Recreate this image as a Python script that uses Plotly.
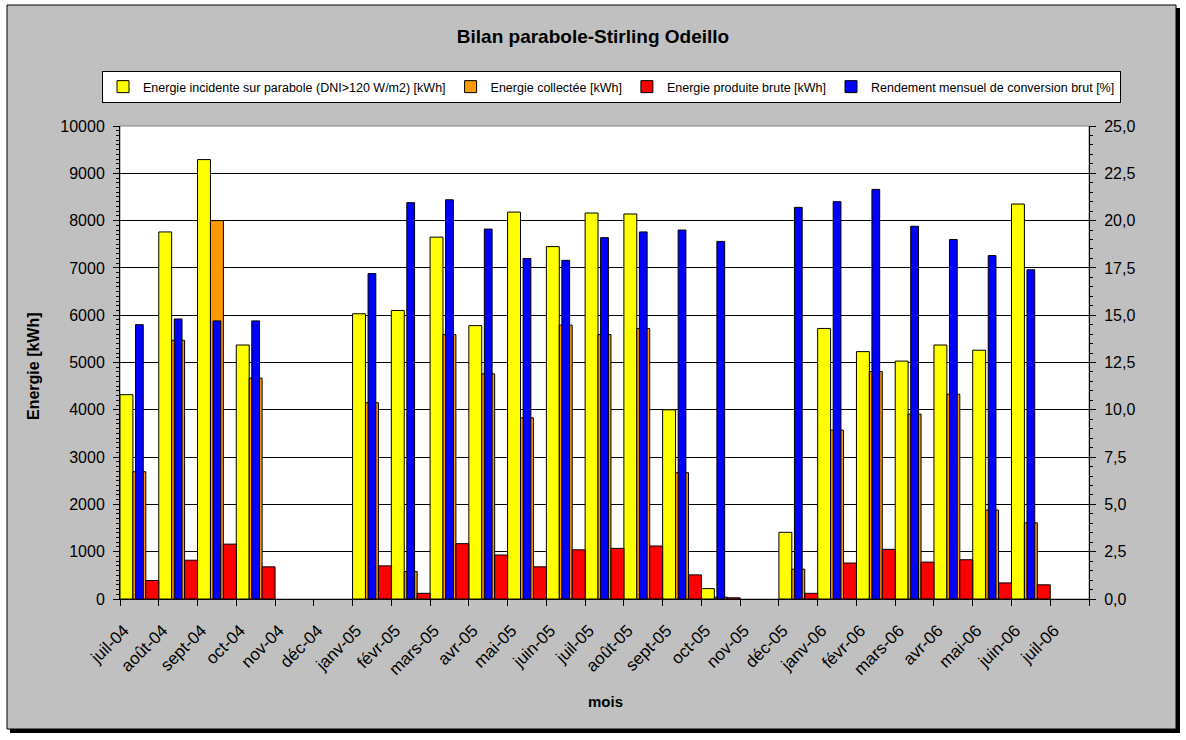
import plotly.graph_objects as go

# ---------------- data ----------------
months = ["juil-04", "août-04", "sept-04", "oct-04", "nov-04", "déc-04",
          "janv-05", "févr-05", "mars-05", "avr-05", "mai-05", "juin-05",
          "juil-05", "août-05", "sept-05", "oct-05", "nov-05", "déc-05",
          "janv-06", "févr-06", "mars-06", "avr-06", "mai-06", "juin-06"]
tick_labels = months + ["juil-06"]

energie_incidente = [4320, 7760, 9290, 5370, None, None,
                     6030, 6100, 7650, 5780, 8180, 7450,
                     8160, 8140, 4000, 220, None, 1410,
                     5720, 5230, 5030, 5370, 5260, 8350]
energie_collectee = [2690, 5470, 8000, 4670, None, None,
                     4150, 580, 5590, 4760, 3830, 5790,
                     5590, 5720, 2670, 40, None, 630,
                     3570, 4810, 3910, 4330, 1880, 1610]
energie_produite = [390, 820, 1160, 680, None, None,
                    700, 120, 1170, 930, 680, 1040,
                    1070, 1120, 510, 25, None, 120,
                    760, 1050, 780, 830, 340, 300]
rendement = [14.5, 14.8, 14.7, 14.7, None, None,
             17.2, 20.95, 21.1, 19.55, 18.0, 17.9,
             19.1, 19.4, 19.5, 18.9, None, 20.7,
             21.0, 21.65, 19.7, 19.0, 18.15, 17.4]

y2_ticks = [0, 2.5, 5, 7.5, 10, 12.5, 15, 17.5, 20, 22.5, 25]
y2_ticktext = [f"{v:.1f}".replace(".", ",") for v in y2_ticks]

names = ["Energie incidente sur parabole (DNI>120 W/m2) [kWh]",
         "Energie collectée [kWh]",
         "Energie produite brute [kWh]",
         "Rendement mensuel de conversion brut [%]"]

# ---------------- layout geometry (pixels) ----------------
W, H = 1186, 740
PL, PR, PT, PB = 120, 1089, 126, 599   # plot area
pw, ph = PR - PL, PB - PT

def px_x(px):
    return (px - PL) / pw

def px_y(py):
    return (PB - py) / ph

FONT = "Arial, Liberation Sans, sans-serif"
xs = list(range(len(months)))
line = dict(color="black", width=1)

fig = go.Figure()
fig.add_trace(go.Bar(x=xs, y=energie_incidente, name=names[0], width=1/3, offset=0,
                     marker=dict(color="#FFFF00", line=line)))
fig.add_trace(go.Bar(x=xs, y=energie_collectee, name=names[1], width=1/3, offset=1/3,
                     marker=dict(color="#FF9900", line=line)))
fig.add_trace(go.Bar(x=xs, y=energie_produite, name=names[2], width=1/3, offset=2/3,
                     marker=dict(color="#FF0000", line=line)))
fig.add_trace(go.Bar(x=xs, y=rendement, name=names[3], width=0.2, offset=0.4,
                     yaxis="y2", marker=dict(color="#0000FF", line=line)))

shapes = [
    # shadow
    dict(type="rect", xref="paper", yref="paper", layer="below",
         x0=px_x(10), x1=px_x(1180), y0=px_y(733), y1=px_y(8),
         fillcolor="#000000", line=dict(width=0)),
    # chart area
    dict(type="rect", xref="paper", yref="paper", layer="below",
         x0=px_x(7), x1=px_x(1176), y0=px_y(729), y1=px_y(5),
         fillcolor="#C0C0C0", line=dict(color="#000000", width=1)),
    # plot area
    dict(type="rect", xref="paper", yref="paper", layer="below",
         x0=0, x1=1, y0=0, y1=1,
         fillcolor="#FFFFFF", line=dict(color="#808080", width=1)),
]

fig.update_layout(
    width=W, height=H,
    margin=dict(l=PL, r=W - PR, t=PT, b=H - PB, pad=0, autoexpand=False),
    paper_bgcolor="#FFFFFF", plot_bgcolor="#FFFFFF",
    font=dict(family=FONT, color="black", size=16),
    barmode="overlay",
    title=dict(text="<b>Bilan parabole-Stirling Odeillo</b>", x=0.5, xanchor="center",
               y=1 - 36 / H, yanchor="middle", font=dict(size=19, family=FONT, color="black")),
    legend=dict(orientation="h", x=px_x(102), xanchor="left", y=px_y(71), yanchor="top",
                bgcolor="#FFFFFF", bordercolor="#000000", borderwidth=1,
                font=dict(size=12.5, family=FONT, color="black"), traceorder="normal",
                itemwidth=30),
    xaxis=dict(range=[0, 25], tickmode="array", tickvals=list(range(26)),
               ticktext=tick_labels + [""], tickangle=-45, ticks="outside", ticklen=6,
               tickcolor="black", showgrid=False, zeroline=False, showline=True,
               linecolor="black", linewidth=1, tickfont=dict(size=17),
               ticklabelstandoff=8, ticklabelshift=4),
    yaxis=dict(range=[0, 10000], dtick=1000, tick0=0, tickformat="d", ticks="outside", ticklen=6,
               tickcolor="black", showgrid=True, gridcolor="#000000", gridwidth=1,
               zeroline=False, showline=True, linecolor="black", linewidth=1,
               tickfont=dict(size=16), ticklabelstandoff=5,
               minor=dict(dtick=100, ticks="outside", ticklen=3, tickcolor="black", showgrid=False)),
    yaxis2=dict(range=[0, 25], overlaying="y", side="right", tickmode="array",
                tickvals=y2_ticks, ticktext=y2_ticktext, ticks="outside", ticklen=6,
                tickcolor="black", showgrid=False, zeroline=False, showline=True,
                linecolor="black", linewidth=1, tickfont=dict(size=16), ticklabelstandoff=5,
                minor=dict(dtick=0.5, ticks="outside", ticklen=3, tickcolor="black", showgrid=False)),
    shapes=shapes,
    annotations=[
        dict(text="<b>Energie [kWh]</b>", textangle=-90, x=px_x(33), y=px_y(366),
             xref="paper", yref="paper", showarrow=False, xanchor="center", yanchor="middle",
             font=dict(size=16, family=FONT, color="black")),
        dict(text="<b>mois</b>", x=px_x(605), y=px_y(701), xref="paper", yref="paper",
             showarrow=False, xanchor="center", yanchor="middle",
             font=dict(size=15, family=FONT, color="black")),
    ],
)

fig.write_html("out.html")
